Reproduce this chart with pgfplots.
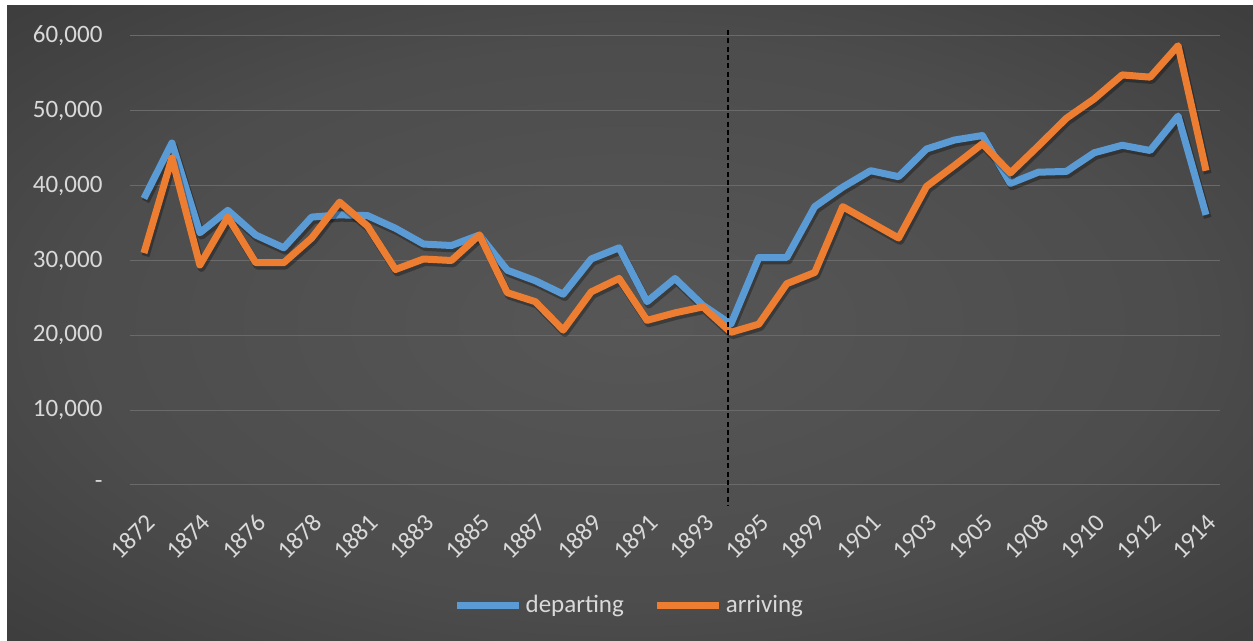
\documentclass[border=0pt]{standalone}
\usepackage{fontspec}
\setmainfont{Carlito}
\usepackage{pgfplots}
\pgfplotsset{compat=1.18}
\usepackage{pgfplotstable}
\definecolor{gridc}{HTML}{6A6A6A}
\definecolor{txt}{HTML}{D9D9D9}
\definecolor{dep}{HTML}{5B9BD5}
\definecolor{arr}{HTML}{ED7D31}
\pgfdeclareradialshading{bgshade}{\pgfpoint{0bp}{0bp}}{%
  color(0bp)=(black!35!white!100);
  color(0bp)=(white!34!black);
  color(22bp)=(white!30!black);
  color(40bp)=(white!22!black);
  color(55bp)=(white!15!black);
  color(80bp)=(white!14!black)}
\pgfplotstableread{
i dep arr
0 38300 31000
1 45700 43700
2 33700 29400
3 36700 35800
4 33400 29700
5 31700 29700
6 35800 33000
7 36100 37800
8 36000 34600
9 34300 28800
10 32200 30200
11 32000 30000
12 33400 33400
13 28700 25700
14 27300 24500
15 25500 20700
16 30200 25800
17 31700 27600
18 24500 22000
19 27600 23000
20 24000 23800
21 21500 20400
22 30400 21500
23 30400 26900
24 37200 28400
25 39800 37200
26 42000 35100
27 41200 33000
28 44900 39900
29 46100 42700
30 46700 45600
31 40300 41700
32 41800 45300
33 41900 49000
34 44400 51600
35 45400 54800
36 44700 54500
37 49300 58700
38 36100 42000
}\datatable
\begin{document}
\begin{tikzpicture}
\fill[white] (0,0) rectangle (751.8pt,384.6pt);
\shade[shading=bgshade] (4.2pt,0) rectangle (751.8pt,381pt);
\begin{axis}[
  at={(78pt,93.6pt)}, anchor=south west,
  scale only axis, width=654pt, height=269.4pt,
  xmin=-0.5, xmax=38.5, ymin=0, ymax=60000,
  clip=false,
  scaled y ticks=false,
  axis line style={draw=none},
  major tick length=0pt,
  xtick={0,2,...,38},
  xticklabels={1872,1874,1876,1878,1881,1883,1885,1887,1889,1891,1893,1895,1899,1901,1903,1905,1908,1910,1912,1914},
  ytick={0,10000,...,60000},
  yticklabels={{-\hspace{10pt}},{10,000},{20,000},{30,000},{40,000},{50,000},{60,000}},
  ymajorgrids, major grid style={gridc, line width=0.6pt},
  every tick label/.append style={font=\fontsize{15}{18}\selectfont, text=txt},
  /pgf/number format/assume math mode=true,
  yticklabel style={xshift=-13pt},
  xticklabel style={xshift=3.8pt, rotate=45, anchor=east, inner sep=0pt},
  xticklabel shift=20pt,
  legend columns=2,
  legend style={at={(0.4587,-0.2673)}, anchor=center, draw=none, fill=none,
    text=txt, font=\fontsize{15}{18}\selectfont,
    /tikz/every even column/.append style={column sep=16pt}},
  legend image code/.code={\draw[#1] (0pt,0pt) -- (37pt,0pt);},
]
\addplot[black, opacity=0.3, line width=4.6pt, line join=round, transform canvas={xshift=1pt, yshift=-1.8pt}, forget plot] table[x=i, y=dep] {\datatable};
\addplot[dep, line width=4.2pt, line join=round] table[x=i, y=dep] {\datatable};
\addlegendentry{departing}
\addplot[black, opacity=0.3, line width=4.6pt, line join=round, transform canvas={xshift=1pt, yshift=-1.8pt}, forget plot] table[x=i, y=arr] {\datatable};
\addplot[arr, line width=4.2pt, line join=round] table[x=i, y=arr] {\datatable};
\addlegendentry{arriving}
\draw[black, dash pattern=on 3pt off 2pt, line width=1pt] (axis cs:20.9,60800) -- (axis cs:20.9,-2700);
\end{axis}
\end{tikzpicture}
\end{document}
